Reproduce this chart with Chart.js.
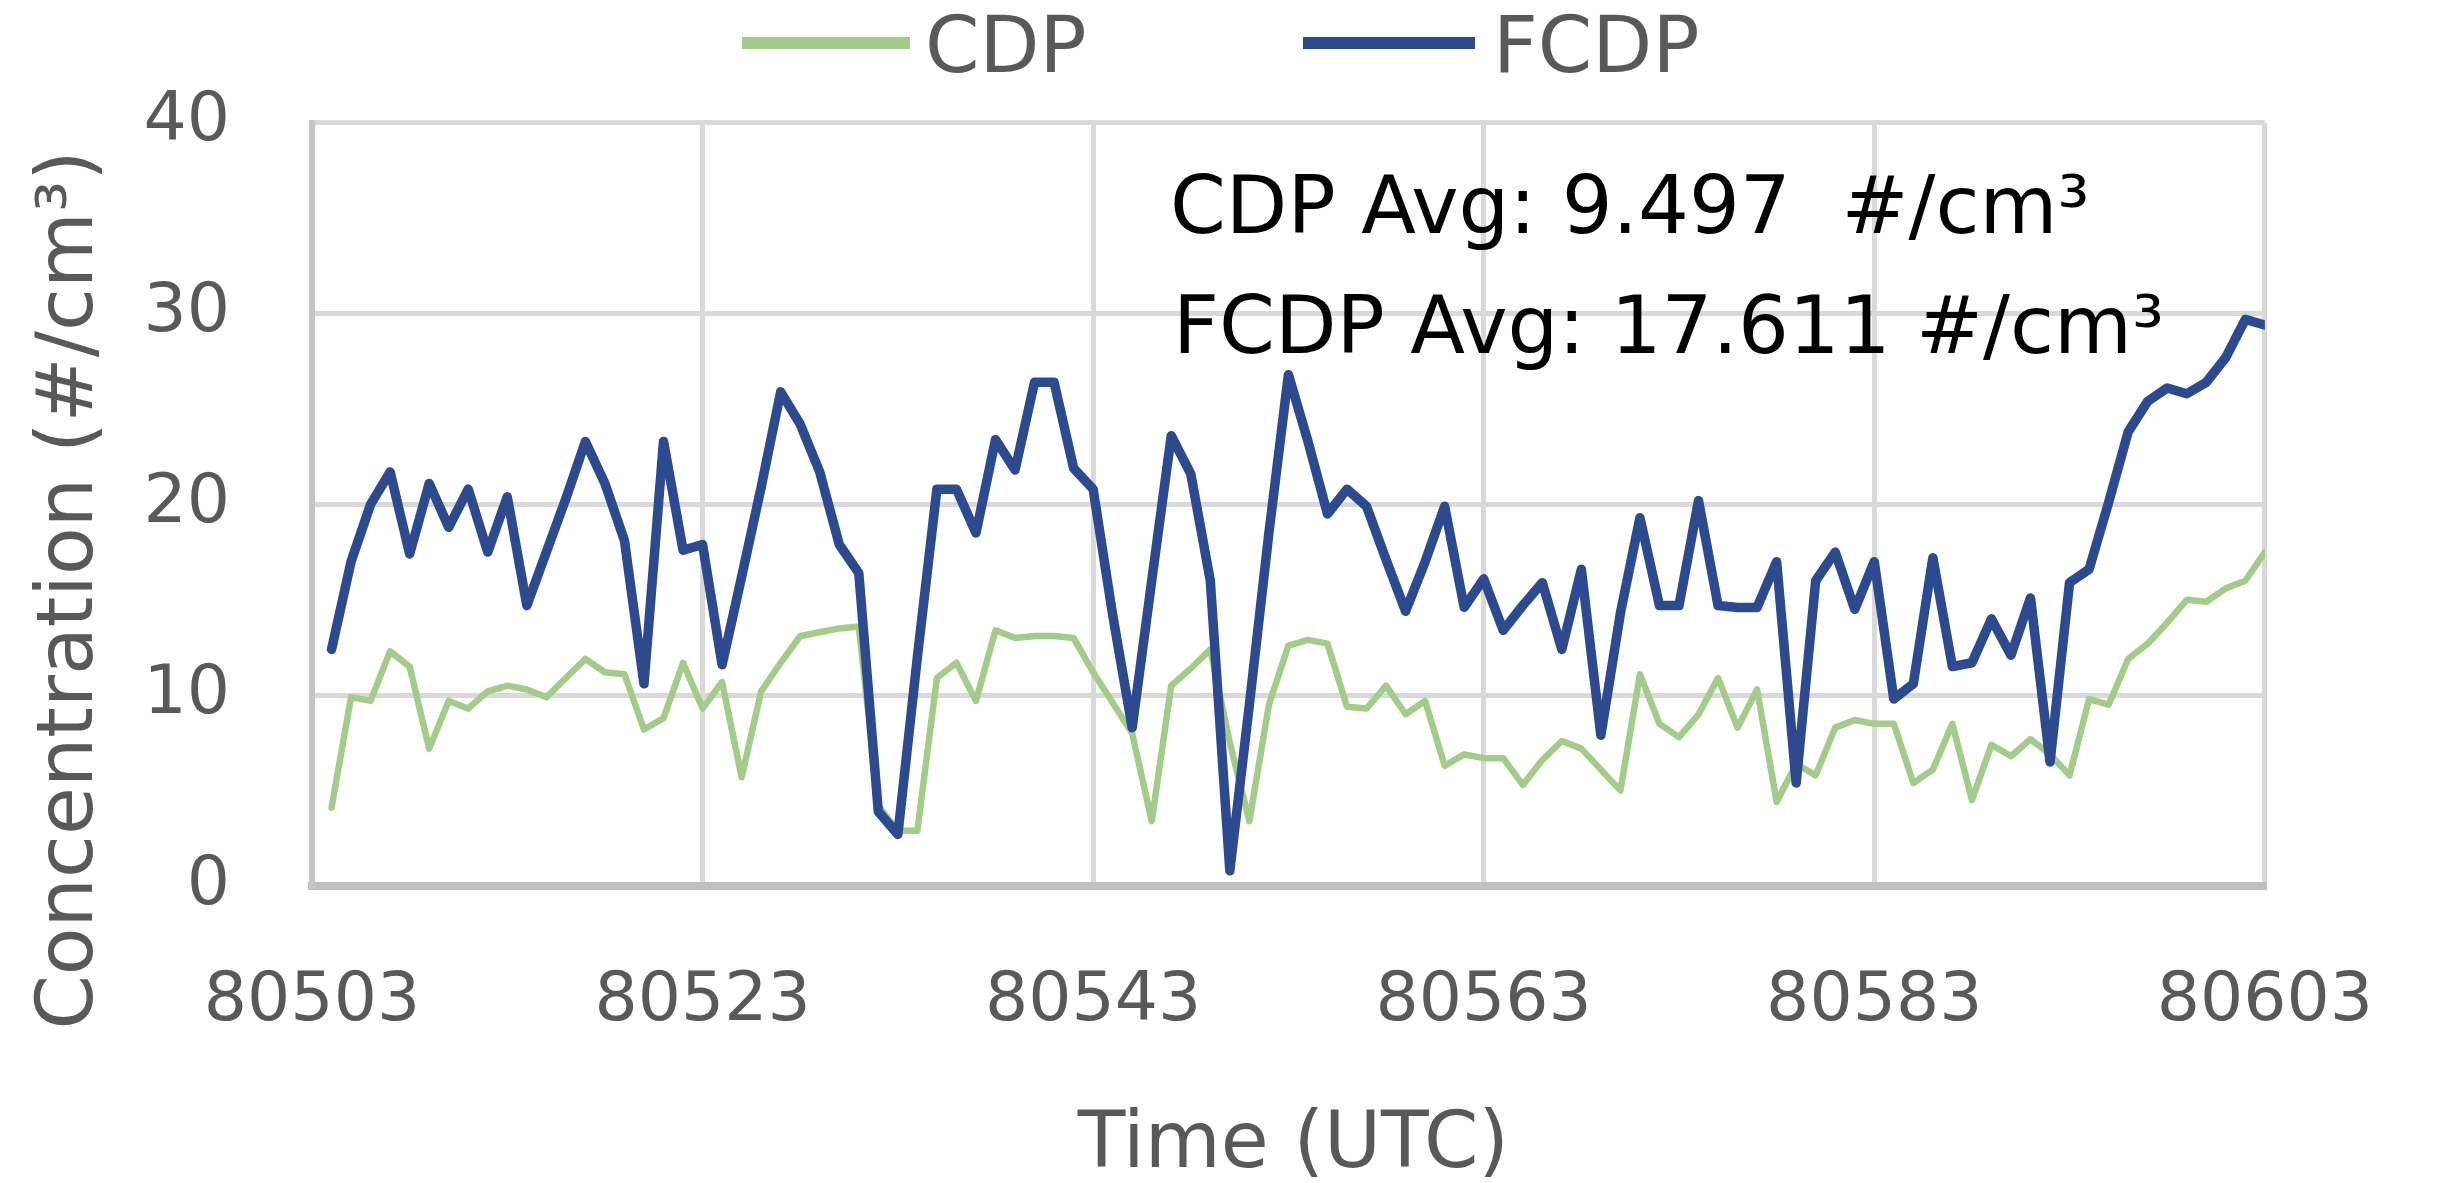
<!DOCTYPE html>
<html>
<head>
<meta charset="utf-8">
<script src="https://cdn.jsdelivr.net/npm/chart.js@4.4.1/dist/chart.umd.min.js"></script>
<style>
  html, body { margin: 0; padding: 0; background: #ffffff; }
  #wrap { width: 2449px; height: 1183px; position: relative; }
</style>
</head>
<body>
<div id="wrap"><canvas id="c"></canvas></div>
<script>
// ---- data ----
const times = [
  80504, 80505, 80506, 80507, 80508, 80509, 80510, 80511, 80512, 80513,
  80514, 80515, 80516, 80517, 80518, 80519, 80520, 80521, 80522, 80523,
  80524, 80525, 80526, 80527, 80528, 80529, 80530, 80531, 80532, 80533,
  80534, 80535, 80536, 80537, 80538, 80539, 80540, 80541, 80542, 80543,
  80544, 80545, 80546, 80547, 80548, 80549, 80550, 80551, 80552, 80553,
  80554, 80555, 80556, 80557, 80558, 80559, 80560, 80561, 80562, 80563,
  80564, 80565, 80566, 80567, 80568, 80569, 80570, 80571, 80572, 80573,
  80574, 80575, 80576, 80577, 80578, 80579, 80580, 80581, 80582, 80583,
  80584, 80585, 80586, 80587, 80588, 80589, 80590, 80591, 80592, 80593,
  80594, 80595, 80596, 80597, 80598, 80599, 80600, 80601, 80602, 80603
];
const cdp = [
  4.1, 9.9, 9.7, 12.3, 11.5, 7.2, 9.7, 9.3, 10.2, 10.5,
  10.3, 9.9, 10.9, 11.9, 11.2, 11.1, 8.2, 8.8, 11.7, 9.3,
  10.7, 5.7, 10.2, 11.7, 13.1, 13.3, 13.5, 13.6, 4.2, 2.9,
  2.9, 10.9, 11.7, 9.7, 13.4, 13.0, 13.1, 13.1, 13.0, 11.2,
  9.6, 8.0, 3.4, 10.5, 11.4, 12.4, 7.5, 3.4, 9.5, 12.6,
  12.9, 12.7, 9.4, 9.3, 10.5, 9.0, 9.7, 6.3, 6.9, 6.7,
  6.7, 5.3, 6.6, 7.6, 7.2, 6.1, 5.0, 11.1, 8.5, 7.8,
  9.0, 10.9, 8.3, 10.3, 4.4, 6.4, 5.8, 8.3, 8.7, 8.5,
  8.5, 5.4, 6.1, 8.5, 4.5, 7.4, 6.8, 7.7, 6.9, 5.8,
  9.8, 9.5, 11.9, 12.7, 13.8, 15.0, 14.9, 15.6, 16.0, 17.5
];
const fcdp = [
  12.4, 17.0, 20.0, 21.7, 17.4, 21.1, 18.8, 20.8, 17.5, 20.4,
  14.7, 17.5, 20.3, 23.3, 21.1, 18.1, 10.6, 23.3, 17.6, 17.9,
  11.6, 16.2, 20.9, 25.9, 24.2, 21.7, 17.9, 16.4, 3.9, 2.7,
  12.0, 20.8, 20.8, 18.5, 23.4, 21.8, 26.4, 26.4, 21.9, 20.8,
  14.2, 8.3, 16.0, 23.6, 21.6, 16.0, 0.8, 9.5, 18.5, 26.8,
  23.3, 19.5, 20.8, 19.9, 17.1, 14.4, 17.0, 19.9, 14.6, 16.1,
  13.4, 14.7, 15.9, 12.4, 16.6, 7.9, 14.3, 19.3, 14.7, 14.7,
  20.2, 14.7, 14.6, 14.6, 17.0, 5.4, 16.0, 17.5, 14.5, 17.0,
  9.8, 10.6, 17.2, 11.5, 11.7, 14.0, 12.1, 15.1, 6.5, 15.9,
  16.6, 20.1, 23.8, 25.4, 26.1, 25.8, 26.4, 27.7, 29.7, 29.4
];
const xTicks = [80503, 80523, 80543, 80563, 80583, 80603];
const yTicks = [0, 10, 20, 30, 40];
const seriesNames = ['CDP', 'FCDP'];
const annotationLines = ['CDP Avg: 9.497  #/cm³', 'FCDP Avg: 17.611 #/cm³'];
const xTitle = 'Time (UTC)';
const yTitle = 'Concentration (#/cm³)';

// ---- styles ----
const GREEN = '#A3CB8A';
const BLUE = '#2C4A8D';
const GREY_TEXT = '#595959';
const FONT = '"DejaVu Sans"';

const overlay = {
  id: 'overlay',
  afterDraw(chart) {
    const ctx = chart.ctx;
    const area = chart.chartArea;
    ctx.save();

    // legend (top, centered)
    const legendPos = [{x0: 742, x1: 910, tx: 925}, {x0: 1303, x1: 1475, tx: 1493}];
    ctx.font = '78px ' + FONT;
    ctx.textBaseline = 'alphabetic';
    ctx.textAlign = 'left';
    chart.data.datasets.forEach((ds, i) => {
      const p = legendPos[i];
      ctx.strokeStyle = ds.borderColor;
      ctx.lineWidth = 12;
      ctx.lineCap = 'butt';
      ctx.beginPath();
      ctx.moveTo(p.x0, 43);
      ctx.lineTo(p.x1, 43);
      ctx.stroke();
      ctx.fillStyle = GREY_TEXT;
      ctx.fillText(ds.label, p.tx, 72);
    });

    // x axis title
    ctx.font = '78px ' + FONT;
    ctx.fillStyle = GREY_TEXT;
    ctx.textAlign = 'center';
    ctx.fillText(xTitle, (area.left + area.right) / 2 + 5, 1167);

    // y axis title
    ctx.save();
    ctx.translate(92, 590);
    ctx.rotate(-Math.PI / 2);
    ctx.textAlign = 'center';
    ctx.fillText(yTitle, 0, 0);
    ctx.restore();

    // annotation text
    ctx.font = '80px ' + FONT;
    ctx.fillStyle = '#000000';
    ctx.textAlign = 'left';
    ctx.fillText(annotationLines[0], 1170, 233);
    ctx.fillText(annotationLines[1], 1173, 353);

    ctx.restore();
  }
};

new Chart(document.getElementById('c'), {
  type: 'line',
  data: {
    datasets: [
      {
        label: seriesNames[0],
        data: times.map((t, i) => ({x: t, y: cdp[i]})),
        borderColor: GREEN,
        backgroundColor: GREEN,
        borderWidth: 6.5,
        pointRadius: 0,
        tension: 0,
        borderJoinStyle: 'round',
        borderCapStyle: 'round',
        order: 2
      },
      {
        label: seriesNames[1],
        data: times.map((t, i) => ({x: t, y: fcdp[i]})),
        borderColor: BLUE,
        backgroundColor: BLUE,
        borderWidth: 9.5,
        pointRadius: 0,
        tension: 0,
        borderJoinStyle: 'round',
        borderCapStyle: 'round',
        order: 1
      }
    ]
  },
  options: {
    responsive: true,
    maintainAspectRatio: false,
    animation: false,
    devicePixelRatio: 1,
    events: [],
    layout: { padding: { top: 115, right: 131, left: 0, bottom: 0 } },
    plugins: {
      legend: { display: false },
      tooltip: { enabled: false },
      title: { display: false }
    },
    scales: {
      x: {
        type: 'linear',
        min: xTicks[0],
        max: xTicks[xTicks.length - 1],
        afterBuildTicks: s => { s.ticks = xTicks.map(v => ({value: v})); },
        afterFit: s => { s.height = 297; },
        ticks: {
          padding: 76,
          font: { family: 'DejaVu Sans', size: 68 },
          color: GREY_TEXT,
          maxRotation: 0,
          autoSkip: false,
          callback: v => String(v)
        },
        grid: { color: '#d9d9d9', lineWidth: 5, drawTicks: false },
        border: { color: '#bfbfbf', width: 8 }
      },
      y: {
        min: yTicks[0],
        max: yTicks[yTicks.length - 1],
        afterBuildTicks: s => { s.ticks = yTicks.map(v => ({value: v})); },
        afterFit: s => { s.width = 312; },
        ticks: {
          padding: 82,
          font: { family: 'DejaVu Sans', size: 68 },
          color: GREY_TEXT
        },
        grid: { color: '#d9d9d9', lineWidth: 5, drawTicks: false },
        border: { color: '#c6c6c6', width: 6 }
      }
    }
  },
  plugins: [overlay]
});
</script>
</body>
</html>
